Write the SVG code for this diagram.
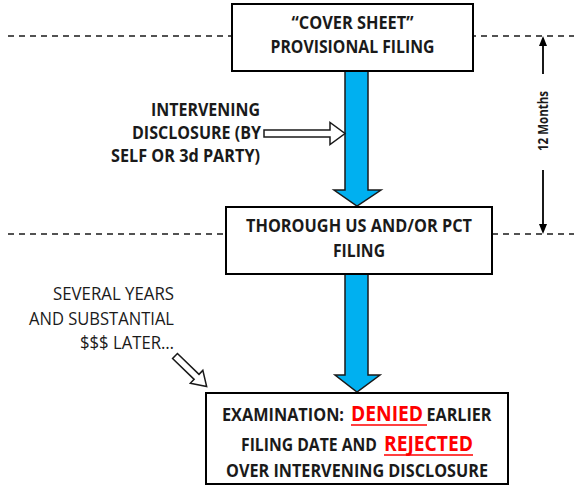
<svg xmlns="http://www.w3.org/2000/svg" width="574" height="486" viewBox="0 0 574 486">
<style>
.t{font-family:"Open Sans",Lato,sans-serif;font-weight:bold;font-size:17.5px;fill:#1a1a1a}
.r{font-family:"Open Sans",Lato,sans-serif;font-weight:normal;font-size:17.5px;fill:#1a1a1a}
.red{font-family:"Open Sans",Lato,sans-serif;font-weight:bold;font-size:21px;fill:#ff0000}
.box{fill:#fff;stroke:#000;stroke-width:2}
.dash{stroke:#1a1a1a;stroke-width:1.5;stroke-dasharray:6 5;fill:none}
.blue{fill:#00b0f0;stroke:#1a1a1a;stroke-width:1.5;stroke-linejoin:miter}
.hollow{fill:#fff;stroke:#1a1a1a;stroke-width:1.5}
</style>
<g id="connectors">
<line class="dash" x1="8" y1="36" x2="574" y2="36"/>
<line class="dash" x1="8" y1="234" x2="574" y2="234"/>
<path class="blue" d="M345,70 V190 H334 L357,206 L381,190 H368 V70 Z"/>
<path class="blue" d="M345,273 V375 H335 L357,392 L380,375 H368 V273 Z"/>
<polygon class="hollow" points="264,130 330,130 330,122.5 345,133.5 330,144.5 330,137 264,137"/>
<polygon class="hollow" transform="translate(175,356) rotate(44)" points="0,-3.5 30,-3.5 30,-9 44,0 30,9 30,3.5 0,3.5"/>
<g id="months">
<line x1="543" y1="44" x2="543" y2="74" stroke="#000" stroke-width="1.8"/>
<polygon points="543,36 539,46 547,46" fill="#000"/>
<line x1="543" y1="170" x2="543" y2="226" stroke="#000" stroke-width="1.8"/>
<polygon points="543,234 539,224 547,224" fill="#000"/>
<text class="t" style="font-size:14.5px" text-anchor="middle" transform="translate(548,121) rotate(-90)" textLength="60" lengthAdjust="spacingAndGlyphs">12 Months</text>
</g>
</g>
<g id="provisional">
<rect class="box" x="232" y="4" width="241" height="67"/>
<text class="t" x="352.5" y="29" text-anchor="middle" textLength="122" lengthAdjust="spacingAndGlyphs">“COVER SHEET”</text>
<text class="t" x="352.5" y="53" text-anchor="middle" textLength="164" lengthAdjust="spacingAndGlyphs">PROVISIONAL FILING</text>
</g>
<g id="thorough">
<rect class="box" x="226" y="207" width="266" height="67"/>
<text class="t" x="359" y="232" text-anchor="middle" textLength="226" lengthAdjust="spacingAndGlyphs">THOROUGH US AND/OR PCT</text>
<text class="t" x="359" y="257" text-anchor="middle" textLength="52" lengthAdjust="spacingAndGlyphs">FILING</text>
</g>
<g id="examination">
<rect class="box" x="206" y="393" width="302" height="91"/>
<text class="t" x="222" y="421" textLength="122" lengthAdjust="spacingAndGlyphs">EXAMINATION:</text>
<text class="red" x="351" y="421" textLength="72" lengthAdjust="spacingAndGlyphs">DENIED</text>
<line x1="351" y1="425" x2="427" y2="425" stroke="#ff0000" stroke-width="1.5"/>
<text class="t" x="426.5" y="421" textLength="65" lengthAdjust="spacingAndGlyphs">EARLIER</text>
<text class="t" x="241" y="451" textLength="136" lengthAdjust="spacingAndGlyphs">FILING DATE AND</text>
<text class="red" x="384" y="451" textLength="89" lengthAdjust="spacingAndGlyphs">REJECTED</text>
<line x1="384" y1="455" x2="473" y2="455" stroke="#ff0000" stroke-width="1.5"/>
<text class="t" x="357" y="477" text-anchor="middle" textLength="262" lengthAdjust="spacingAndGlyphs">OVER INTERVENING DISCLOSURE</text>
</g>
<g id="intervening">
<text class="t" x="260" y="116" text-anchor="end" textLength="109" lengthAdjust="spacingAndGlyphs">INTERVENING</text>
<text class="t" x="261" y="139" text-anchor="end" textLength="129" lengthAdjust="spacingAndGlyphs">DISCLOSURE (BY</text>
<text class="t" x="260" y="162" text-anchor="end" textLength="149" lengthAdjust="spacingAndGlyphs">SELF OR 3d PARTY)</text>
</g>
<g id="several">
<text class="r" x="174" y="300" text-anchor="end" textLength="121" lengthAdjust="spacingAndGlyphs">SEVERAL YEARS</text>
<text class="r" x="174" y="325" text-anchor="end" textLength="145" lengthAdjust="spacingAndGlyphs">AND SUBSTANTIAL</text>
<text class="r" x="174" y="349" text-anchor="end" textLength="94" lengthAdjust="spacingAndGlyphs">$$$ LATER…</text>
</g>
</svg>
